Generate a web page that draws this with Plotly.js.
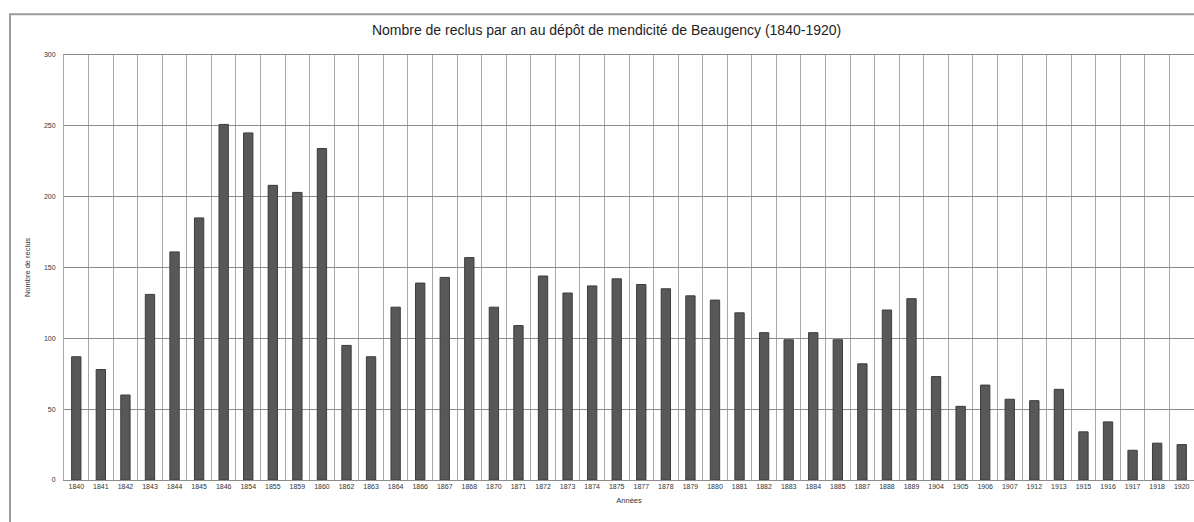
<!DOCTYPE html>
<html>
<head>
<meta charset="utf-8">
<script src="https://cdn.plot.ly/plotly-3.0.1.min.js"></script>
<style>
  html, body { margin: 0; padding: 0; background: #ffffff; }
  #chart { width: 1194px; height: 522px; }
</style>
</head>
<body>
<div id="chart"></div>
<script>
const years = ["1840","1841","1842","1843","1844","1845","1846","1854","1855","1859","1860","1862","1863","1864","1866","1867","1868","1870","1871","1872","1873","1874","1875","1877","1878","1879","1880","1881","1882","1883","1884","1885","1887","1888","1889","1904","1905","1906","1907","1912","1913","1915","1916","1917","1918","1920"];
const reclus = [87,78,60,131,161,185,251,245,208,203,234,95,87,122,139,143,157,122,109,144,132,137,142,138,135,130,127,118,104,99,104,99,82,120,128,73,52,67,57,56,64,34,41,21,26,25];
const chartTitle = "Nombre de reclus par an au dépôt de mendicité de Beaugency (1840-1920)";
const xTitle = "Années";
const yTitle = "Nombre de reclus";
const yTicks = [0,50,100,150,200,250,300];

const font = "Liberation Sans, Arial, sans-serif";

const trace = {
  type: "bar",
  x: years,
  y: reclus,
  marker: { color: "#585858", line: { color: "#3c3c3c", width: 1 } },
  hoverinfo: "x+y"
};

const layout = {
  width: 1194,
  height: 522,
  margin: { l: 64, r: 0, t: 55, b: 42 },
  paper_bgcolor: "#ffffff",
  plot_bgcolor: "#ffffff",
  bargap: 0.62,
  showlegend: false,
  title: {
    text: chartTitle,
    font: { family: font, size: 14, color: "#1e1e1e" },
    xref: "container", x: 0.508, xanchor: "center",
    yref: "container", y: 0.943, yanchor: "middle"
  },
  xaxis: {
    type: "category",
    tickson: "boundaries",
    showgrid: true,
    gridcolor: "#a8a8a8",
    gridwidth: 1,
    ticks: "",
    showline: true,
    mirror: true,
    linecolor: "#8c8c8c",
    linewidth: 1,
    tickfont: { family: font, size: 7, color: "#333333" },
    tickangle: 0,
    title: { text: xTitle, font: { family: font, size: 7.5, color: "#333333" }, standoff: 8 }
  },
  yaxis: {
    range: [0, 300],
    tickvals: yTicks,
    showgrid: true,
    gridcolor: "#8c8c8c",
    gridwidth: 1,
    zeroline: true,
    zerolinecolor: "#8c8c8c",
    zerolinewidth: 1,
    showline: true,
    linecolor: "#a8a8a8",
    linewidth: 1,
    ticks: "",
    ticklabelstandoff: 6,
    tickfont: { family: font, size: 7, color: "#333333" },
    title: { text: yTitle, font: { family: font, size: 7.5, color: "#333333" }, standoff: 12 }
  },
  shapes: [
    {
      type: "rect", xref: "paper", yref: "paper",
      x0: -0.0478, x1: 1.2, y0: -0.3, y1: 1.0958,
      line: { color: "#9a9a9a", width: 2 },
      fillcolor: "rgba(0,0,0,0)",
      layer: "above"
    }
  ]
};

Plotly.newPlot("chart", [trace], layout, { displayModeBar: false, staticPlot: true });
</script>
</body>
</html>
